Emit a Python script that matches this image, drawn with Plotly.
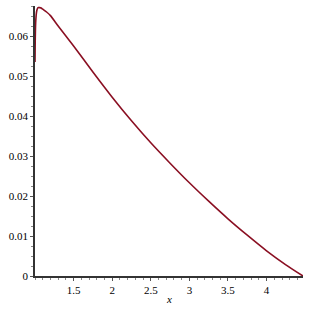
import plotly.graph_objects as go

x_vals = [1.0, 1.002, 1.005, 1.01, 1.02, 1.03, 1.045, 1.06, 1.08, 1.1, 1.15, 1.2, 1.3, 1.4, 1.5,
          1.75, 2.0, 2.25, 2.5, 2.75, 3.0, 3.25, 3.5, 3.75, 4.0, 4.25, 4.472]
y_vals = [0.0535, 0.0575, 0.0610, 0.0638, 0.0660, 0.0668, 0.0671, 0.0671, 0.0670, 0.0667, 0.0660,
          0.0651, 0.0625, 0.0600, 0.0575, 0.0510, 0.0447, 0.0388, 0.0333, 0.0282, 0.0233,
          0.0187, 0.0143, 0.0102, 0.0063, 0.0028, 0.0]

x_ticks = [1.5, 2, 2.5, 3, 3.5, 4]
x_tick_labels = ["1.5", "2", "2.5", "3", "3.5", "4"]
y_ticks = [0, 0.01, 0.02, 0.03, 0.04, 0.05, 0.06]
y_tick_labels = ["0", "0.01", "0.02", "0.03", "0.04", "0.05", "0.06"]

fig = go.Figure()
fig.add_trace(go.Scatter(x=x_vals, y=y_vals, mode="lines",
                         line=dict(color="#8a0f22", width=1.6, shape="spline", smoothing=0.6),
                         hoverinfo="skip", showlegend=False, cliponaxis=False))

serif = "Times New Roman, Liberation Serif, DejaVu Serif, serif"
font = dict(family=serif, size=11, color="#000000")
fig.update_layout(
    width=309, height=309,
    margin=dict(l=35, r=6, t=6, b=33, autoexpand=False),
    paper_bgcolor="white", plot_bgcolor="white",
    font=font,
    xaxis=dict(range=[1, 4.472], tickvals=x_ticks, ticktext=x_tick_labels, automargin=False,
               showgrid=False, zeroline=False, showline=True, linecolor="#333333", linewidth=1.5,
               ticks="outside", ticklen=3, tickcolor="#555555", tickwidth=1,
               minor=dict(dtick=0.1, tick0=1, ticks="outside", ticklen=2, tickcolor="#888888", showgrid=False),
               tickfont=font),
    yaxis=dict(range=[0, 0.0675], tickvals=y_ticks, ticktext=y_tick_labels, automargin=False,
               showgrid=False, zeroline=False, showline=True, linecolor="#333333", linewidth=1.5,
               ticks="outside", ticklen=3, tickcolor="#555555", tickwidth=1,
               minor=dict(dtick=0.0025, tick0=0, ticks="outside", ticklen=2, tickcolor="#888888", showgrid=False),
               tickfont=font),
    annotations=[dict(text="<i>x</i>", xref="paper", yref="paper", x=0.5, y=-0.085,
                      xanchor="center", yanchor="middle", showarrow=False,
                      font=dict(family=serif, size=11, color="#000000"))],
)

fig.write_html("out.html", config={"displayModeBar": False},
               post_script="document.body.style.margin='0';document.body.style.padding='0';")
